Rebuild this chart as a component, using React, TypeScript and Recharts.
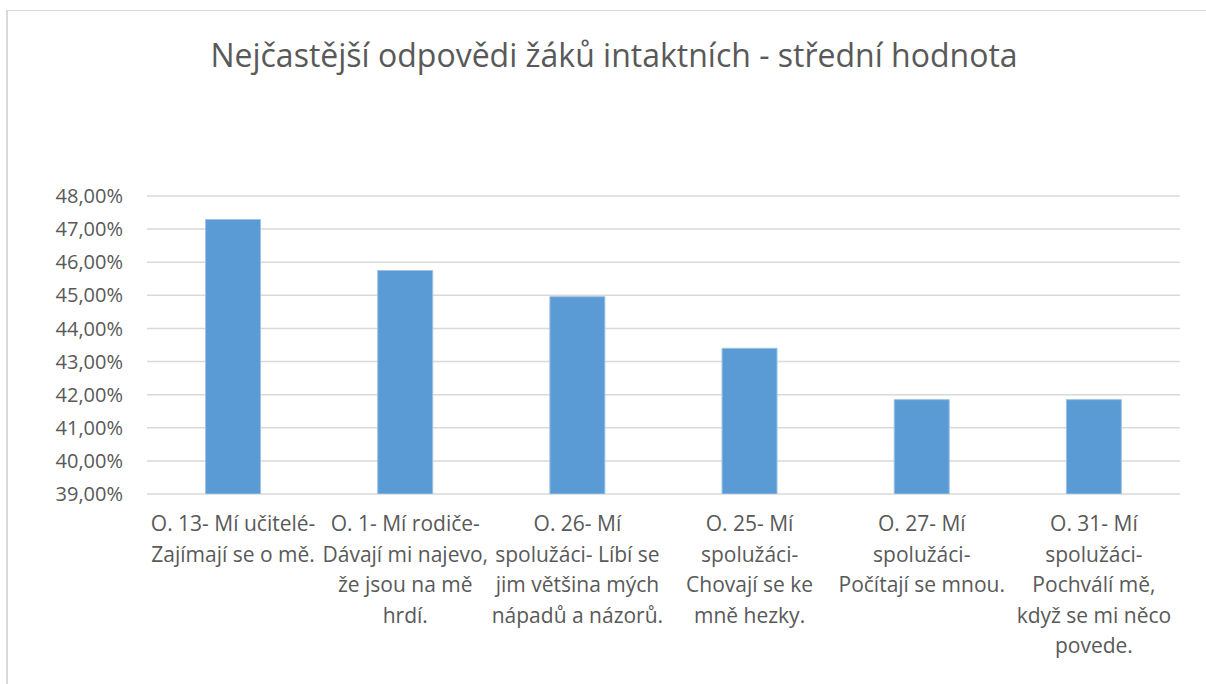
import { BarChart, Bar, XAxis, YAxis, CartesianGrid } from "recharts"

const title = "Nejčastější odpovědi žáků intaktních - střední hodnota"

const categories = ["O. 13", "O. 1", "O. 26", "O. 25", "O. 27", "O. 31"]

const labelLines = [
  ["O. 13- Mí učitelé-", "Zajímají se o mě."],
  ["O. 1- Mí rodiče-", "Dávají mi najevo,", "že jsou na mě", "hrdí."],
  ["O. 26- Mí", "spolužáci- Líbí se", "jim většina mých", "nápadů a názorů."],
  ["O. 25- Mí", "spolužáci-", "Chovají se ke", "mně hezky."],
  ["O. 27- Mí", "spolužáci-", "Počítají se mnou."],
  ["O. 31- Mí", "spolužáci-", "Pochválí mě,", "když se mi něco", "povede."],
]

const values = [47.29, 45.75, 44.96, 43.4, 41.85, 41.85]

const yTicks = [39, 40, 41, 42, 43, 44, 45, 46, 47, 48]

const data = categories.map((c, i) => ({ name: c, value: values[i] }))

const FONT = "'Open Sans', sans-serif"
const TEXT = "#595959"

const fmt = (v: number) => v.toFixed(2).replace(".", ",") + "%"

function CategoryTick(props: any) {
  const { x, y, index } = props
  const lines = labelLines[index] || []
  return (
    <text x={x} y={y} textAnchor="middle" fill={TEXT} fontSize={21} fontFamily={FONT}>
      {lines.map((l, i) => (
        <tspan key={i} x={x} dy={i === 0 ? 29 : 30.5}>
          {l}
        </tspan>
      ))}
    </text>
  )
}

export default function App() {
  return (
    <div style={{ position: "absolute", left: 0, top: 0, width: 1206, height: 684, overflow: "hidden", background: "#fff" }}>
      <style>{"body{margin:0;overflow:hidden}"}</style>
      <div
        style={{
          position: "absolute",
          left: 6,
          top: 10,
          width: 1220,
          height: 720,
          borderTop: "1px solid #d9d9d9",
          borderLeft: "2px solid #d9d9d9",
        }}
      />
      <div
        style={{
          position: "absolute",
          left: 0,
          top: 33,
          width: 1228,
          textAlign: "center",
          fontFamily: FONT,
          fontSize: 32,
          color: TEXT,
          whiteSpace: "nowrap",
        }}
      >
        {title}
      </div>
      <div style={{ position: "absolute", left: 0, top: 0 }}>
        <BarChart width={1206} height={684} data={data} margin={{ top: 196, right: 26, bottom: 0, left: 0 }} barCategoryGap="34%">
          <CartesianGrid vertical={false} stroke="#d9d9d9" strokeWidth={1.5} />
          <XAxis dataKey="name" height={190} axisLine={false} tickLine={false} interval={0} tick={<CategoryTick />} />
          <YAxis
            width={147}
            domain={[39, 48]}
            ticks={yTicks}
            tickFormatter={fmt}
            axisLine={false}
            tickLine={false}
            tickSize={0}
            tickMargin={24}
            tick={{ fill: TEXT, fontSize: 20, fontFamily: FONT }}
            allowDataOverflow
          />
          <Bar dataKey="value" fill="#5b9bd5" stroke="#9dc3e6" strokeWidth={1} isAnimationActive={false} />
        </BarChart>
      </div>
    </div>
  )
}
